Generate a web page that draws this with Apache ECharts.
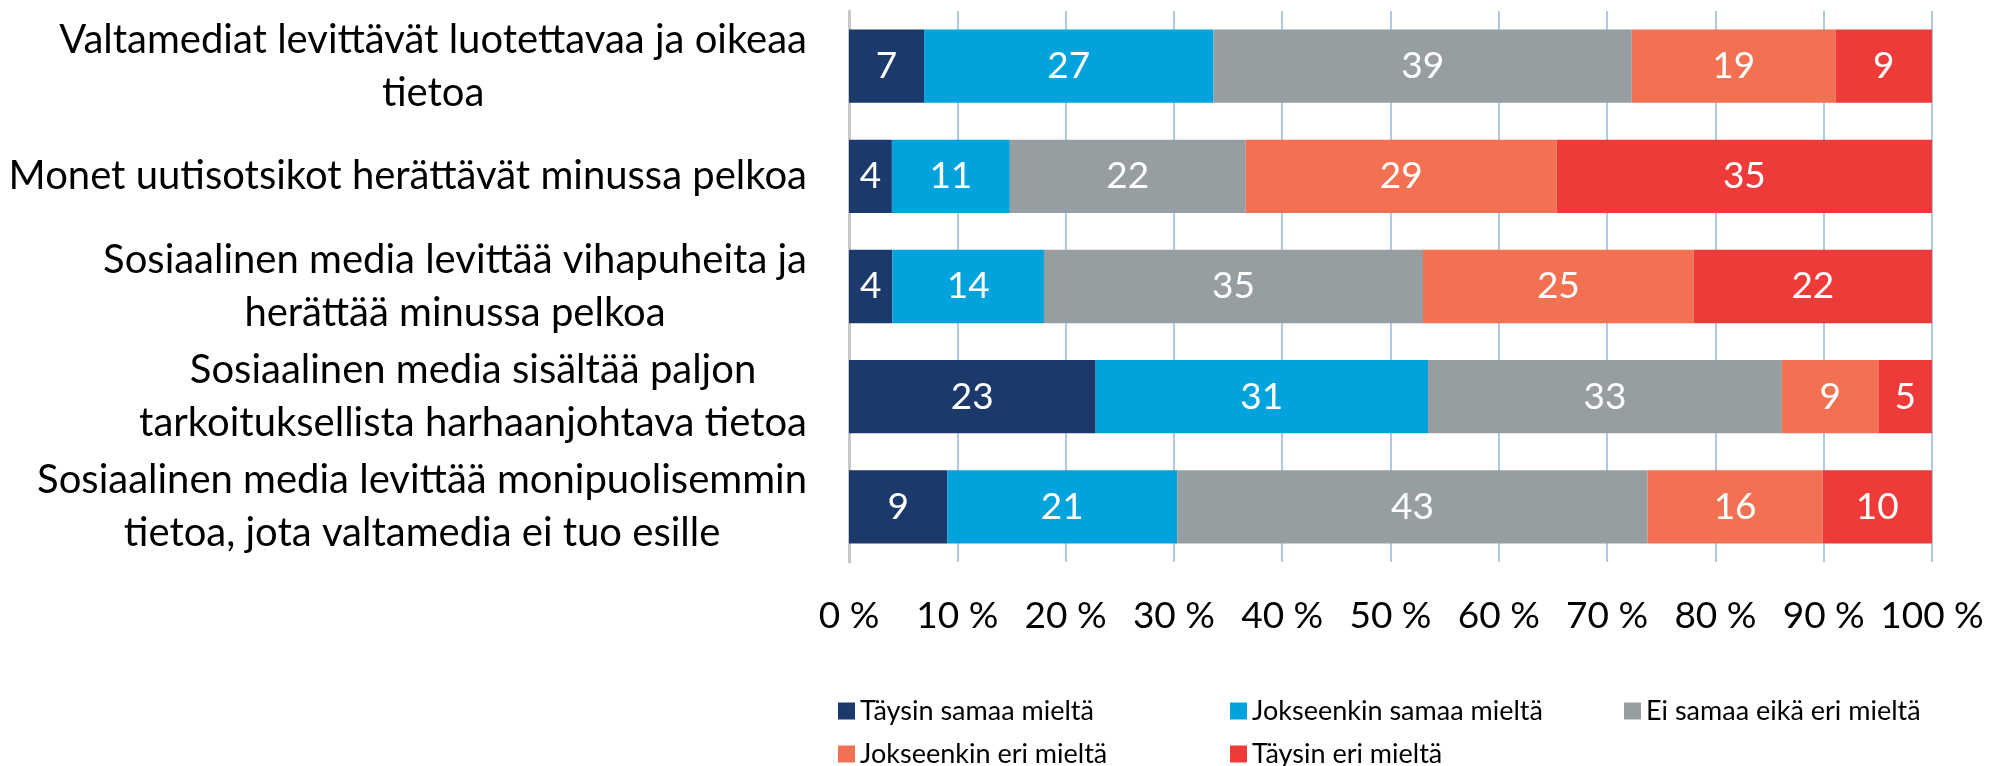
<!DOCTYPE html>
<html>
<head>
<meta charset="utf-8">
<script src="https://cdn.jsdelivr.net/npm/echarts@6/dist/echarts.min.js"></script>
<style>
  html, body { margin: 0; padding: 0; background: #fff; }
  #chart { width: 1990px; height: 766px; }
</style>
</head>
<body>
<div id="chart"></div>
<script>
// väittämät (ylhäältä alas)
const categories = [
  'Valtamediat levittävät luotettavaa ja oikeaa\ntietoa',
  'Monet uutisotsikot herättävät minussa pelkoa',
  'Sosiaalinen media levittää vihapuheita ja\nherättää minussa pelkoa',
  'Sosiaalinen media sisältää paljon\ntarkoituksellista harhaanjohtava tietoa',
  'Sosiaalinen media levittää monipuolisemmin\ntietoa, jota valtamedia ei tuo esille'
];

const seriesNames = [
  'Täysin samaa mieltä',
  'Jokseenkin samaa mieltä',
  'Ei samaa eikä eri mieltä',
  'Jokseenkin eri mieltä',
  'Täysin eri mieltä'
];

const taysinSamaa = [7, 4, 4, 23, 9];
const jokseenkinSamaa = [27, 11, 14, 31, 21];
const eiSamaaEikaEri = [39, 22, 35, 33, 43];
const jokseenkinEri = [19, 29, 25, 9, 16];
const taysinEri = [9, 35, 22, 5, 10];

const xTicks = [0, 10, 20, 30, 40, 50, 60, 70, 80, 90, 100];

const colors = ['#1b3a6b', '#00a3db', '#979ea1', '#f27153', '#ee3b3a'];
const FONT = 'Lato';

const values = [taysinSamaa, jokseenkinSamaa, eiSamaaEikaEri, jokseenkinEri, taysinEri];

// 100 % pinottu: jokainen rivi skaalataan omaan summaansa
const rowTotals = categories.map((_, r) => values.reduce((s, arr) => s + arr[r], 0));

const chart = echarts.init(document.getElementById('chart'));

// legendin sijainnit kahdella rivillä
const legendPos = [
  [838, 696], [1230, 696], [1624, 696],
  [838, 739], [1230, 739]
];

const option = {
  backgroundColor: '#fff',
  animation: false,
  grid: { left: 849, right: 58, top: 11, bottom: 204, containLabel: false },
  legend: legendPos.map((p, i) => ({
    data: [seriesNames[i]],
    left: p[0],
    top: p[1],
    padding: 0,
    icon: 'rect',
    itemWidth: 17,
    itemHeight: 17,
    selectedMode: false,
    textStyle: { fontFamily: FONT, fontSize: 27, lineHeight: 30, color: '#000' }
  })),
  xAxis: {
    type: 'value',
    min: 0,
    max: 100,
    interval: 10,
    axisLine: { show: false },
    axisTick: { show: false },
    axisLabel: {
      margin: 36,
      fontFamily: FONT,
      fontSize: 37,
      color: '#000',
      formatter: v => (xTicks.includes(v) ? v + ' %' : '')
    },
    splitLine: { show: true, lineStyle: { color: '#b0c8e4', width: 2 } }
  },
  yAxis: {
    type: 'category',
    inverse: true,
    data: categories,
    axisLine: { show: true, lineStyle: { color: '#c8c8c8', width: 3 } },
    axisTick: { show: false },
    axisLabel: {
      margin: 42,
      formatter: v => v.split('\n').map(l => '{c|' + l + '}').join('\n'),
      rich: {
        c: { align: 'center', fontFamily: FONT, fontSize: 40, lineHeight: 53, color: '#000' }
      }
    }
  },
  series: values.map((arr, i) => ({
    name: seriesNames[i],
    type: 'bar',
    stack: 'total',
    barCategoryGap: '33.5%',
    itemStyle: { color: colors[i] },
    label: {
      show: true,
      position: 'inside',
      color: '#fff',
      fontFamily: FONT,
      fontSize: 37,
      formatter: p => arr[p.dataIndex]
    },
    data: arr.map((v, r) => v / rowTotals[r] * 100)
  }))
};

chart.setOption(option);
</script>
</body>
</html>
